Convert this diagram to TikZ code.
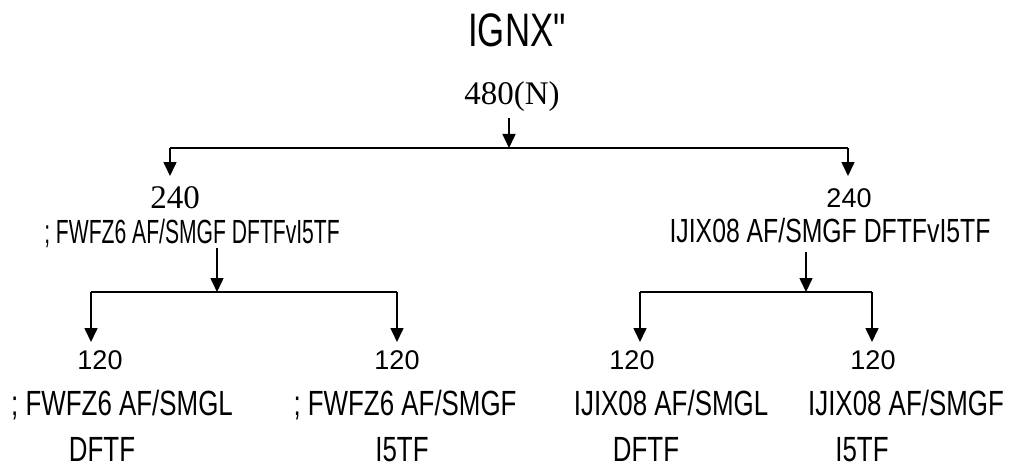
\documentclass[tikz,border=0pt]{standalone}
\usepackage{fontspec}
\setmainfont{Liberation Serif}
\newfontfamily\narrowfont[FakeStretch=0.74]{Liberation Sans}
\newfontfamily\narrowerfont[FakeStretch=0.63]{Liberation Sans}
\newfontfamily\plainsans{Liberation Sans}
\usetikzlibrary{positioning, arrows.meta, calc}

\begin{document}
\begin{tikzpicture}[
    x=1pt, y=-1pt,
    lbl/.style={anchor=base, inner sep=0pt},
    title/.style={lbl, font=\narrowfont\fontsize{47}{50}\selectfont},
    serifnum/.style={lbl, font=\fontsize{33}{36}\selectfont},
    sansnum/.style={lbl, font=\plainsans\fontsize{27}{30}\selectfont},
    group/.style={lbl, font=\narrowfont\fontsize{33.5}{36}\selectfont},
    leaf/.style={lbl, font=\narrowfont\fontsize{35}{38}\selectfont},
    bus/.style={line width=1.6pt},
    relationship/.style={line width=1.6pt, -{Triangle[length=14pt, width=13pt]}}
]
    \useasboundingbox (0,0) rectangle (1014,468);

    % Title and root
    \node[title] (title) at (517,47) {IGNX"};
    \node[serifnum] (root) at (512,105) {480(N)};

    % Left group
    \node[serifnum] (leftnum) at (175,208) {240};
    \node[group, font=\narrowerfont\fontsize{33.5}{36}\selectfont] (leftlab) at (192,243) {; FWFZ6 AF/SMGF DFTFvI5TF};

    % Right group
    \node[sansnum] (rightnum) at (849,207) {240};
    \node[group] (rightlab) at (830,242) {IJIX08 AF/SMGF DFTFvI5TF};

    % Leaves (left)
    \node[sansnum] (num1) at (100,369) {120};
    \node[leaf] (name1) at (122,415) {; FWFZ6 AF/SMGL};
    \node[leaf] (sub1) at (102,461) {DFTF};

    \node[sansnum] (num2) at (397,369) {120};
    \node[leaf] (name2) at (405,415) {; FWFZ6 AF/SMGF};
    \node[leaf] (sub2) at (402,461) {I5TF};

    % Leaves (right)
    \node[sansnum] (num3) at (632,369) {120};
    \node[leaf] (name3) at (671,415) {IJIX08 AF/SMGL};
    \node[leaf] (sub3) at (646,461) {DFTF};

    \node[sansnum] (num4) at (873,369) {120};
    \node[leaf] (name4) at (906,415) {IJIX08 AF/SMGF};
    \node[leaf] (sub4) at (862,461) {I5TF};

    % Junction points
    \coordinate (rootout) at (509,118);
    \coordinate (rootbus) at (509,148);
    \coordinate (busA) at (170,148);
    \coordinate (busB) at (848,148);
    \coordinate (tipA) at (170,176);
    \coordinate (tipB) at (848,176);

    \coordinate (leftout) at (217,248);
    \coordinate (leftbus) at (217,292);
    \coordinate (busC) at (91,292);
    \coordinate (busD) at (397,292);
    \coordinate (tip1) at (91,342);
    \coordinate (tip2) at (397,342);

    \coordinate (rightout) at (806,252);
    \coordinate (rightbus) at (806,292);
    \coordinate (busE) at (640,292);
    \coordinate (busF) at (872,292);
    \coordinate (tip3) at (640,342);
    \coordinate (tip4) at (872,342);

    % Relationships
    \draw[relationship] (rootout) -- (rootbus);
    \draw[bus] (busA) -- (busB);
    \draw[relationship] (busA) -- (tipA);
    \draw[relationship] (busB) -- (tipB);

    \draw[relationship] (leftout) -- (leftbus);
    \draw[bus] (busC) -- (busD);
    \draw[relationship] (busC) -- (tip1);
    \draw[relationship] (busD) -- (tip2);

    \draw[relationship] (rightout) -- (rightbus);
    \draw[bus] (busE) -- (busF);
    \draw[relationship] (busE) -- (tip3);
    \draw[relationship] (busF) -- (tip4);

\end{tikzpicture}
\end{document}
